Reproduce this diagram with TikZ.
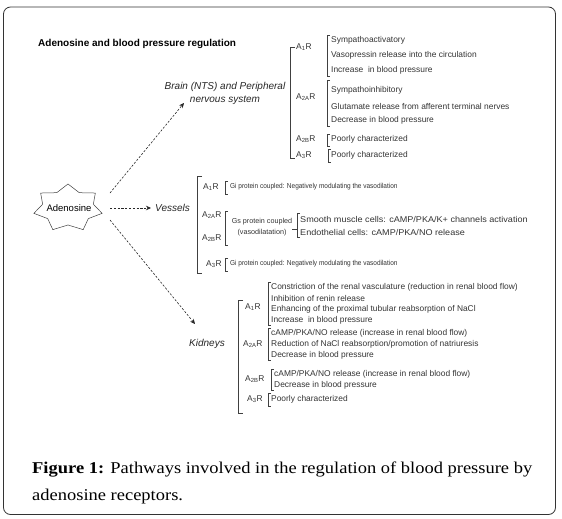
\documentclass[tikz,border=0pt]{standalone}
\usepackage{fontspec}
\setmainfont{Liberation Sans}
\newfontfamily\capfont[FakeStretch=1.12]{Liberation Serif}
\newfontfamily\narrowsf[FakeStretch=0.9]{Liberation Sans}
\newfontfamily\widesf[FakeStretch=1.08]{Liberation Sans}
\usetikzlibrary{arrows.meta}
\tikzset{
 body/.style={inner sep=0pt, anchor=west, font=\fontsize{8.4}{10}\selectfont, text=black!80},
 gitxt/.style={body, font=\narrowsf\fontsize{7.2}{8}\selectfont},
 smtxt/.style={body, font=\widesf\fontsize{8.4}{10}\selectfont},
 rlab/.style={body},
 sect/.style={inner sep=0pt, font=\fontsize{10}{13}\selectfont\itshape, text=black!85, align=center},
 brk/.style={draw=black!75, line width=0.5pt},
 arr/.style={draw=black!85, line width=0.6pt, dash pattern=on 2.2pt off 1.6pt, -{Stealth[length=5pt,width=4.5pt]}},
}
\newcommand\mybr[4]{\draw[brk] ({#1+#4},#2) -- (#1,#2) -- (#1,#3) -- ({#1+#4},#3);}
\newcommand\rc[1]{A\textsubscript{#1}R}
\begin{document}
\begin{tikzpicture}[x=1pt,y=-1pt]
\useasboundingbox (0,0) rectangle (562,519);
\draw[rounded corners=7pt, line width=0.8pt, black!80] (3.5,7) rectangle (555.5,514.5);

\node[anchor=west, inner sep=0pt, font=\fontsize{10}{12}\selectfont\bfseries] (title) at (38,44) {Adenosine and blood pressure regulation};

% star
\draw[line width=0.5pt, black!75] (68,184) \foreach \k in {0,...,6}{ -- ({68+26*cos(90+(\k+0.5)*360/7)},{208-17*sin(90+(\k+0.5)*360/7)}) -- ({68+35*cos(90+(\k+1)*360/7)},{208-24*sin(90+(\k+1)*360/7)}) } -- cycle;
\node[inner sep=0pt, font=\fontsize{9.5}{11}\selectfont] (adn) at (69,208) {Adenosine};

% section labels
\node[sect] (brain) at (225,93) {Brain (NTS) and Peripheral\\nervous system};
\node[sect, anchor=west] (vess) at (155,208) {Vessels};
\node[sect, anchor=west] (kid) at (189,344) {Kidneys};

% arrows
\coordinate (s1) at (110,193); \coordinate (e1) at (184,103);
\coordinate (s2) at (110,208);
\coordinate (s3) at (110,220); \coordinate (e3) at (195,324);
\draw[arr] (s1) -- (e1);
\draw[arr] (s2) -- ([xshift=-4pt]vess.west);
\draw[arr] (s3) -- (e3);

% Brain
\mybr{290}{47}{158}{5}
\node[rlab] (b1) at (296,47) {\rc{1}};
\mybr{327}{35}{76}{3}
\node[body] (b1a) at (331,40) {Sympathoactivatory};
\node[body] (b1b) at (331,55) {Vasopressin release into the circulation};
\node[body] (b1c) at (331,70) {Increase\ \ in blood pressure};
\node[rlab] (b2) at (296,97) {\rc{2A}};
\mybr{327}{80}{126}{3}
\node[body] (b2a) at (331,90) {Sympathoinhibitory};
\node[body] (b2b) at (331,106) {Glutamate release from afferent terminal nerves};
\node[body] (b2c) at (331,120) {Decrease in blood pressure};
\node[rlab] (b3) at (296,139) {\rc{2B}};
\mybr{327}{134}{146}{3}
\node[body] (b3a) at (331,139) {Poorly characterized};
\node[rlab] (b4) at (296,155) {\rc{3}};
\mybr{328}{149}{162}{3}
\node[body] (b4a) at (331,155) {Poorly characterized};

% Vessels
\mybr{197}{176}{273}{5}
\node[rlab] (v1) at (203,187) {\rc{1}};
\mybr{225}{181}{194}{3}
\node[gitxt] (v1a) at (230,187) {Gi protein coupled: Negatively modulating the vasodilation};
\node[rlab] (v2) at (202,215) {\rc{2A}};
\node[rlab] (v3) at (202,238) {\rc{2B}};
\mybr{225}{211}{245}{3}
\node[inner sep=0pt, font=\fontsize{7.2}{10.5}\selectfont, text=black!80, align=center] (v2a) at (262,227) {Gs protein coupled\\(vasodilatation)};
\draw[brk] (292,229) -- (297,229);
\mybr{297}{213}{237}{3}
\node[smtxt] (v2b) at (300,219) {Smooth muscle cells: cAMP/PKA/K+ channels activation};
\node[smtxt] (v2c) at (300,232) {Endothelial cells: cAMP/PKA/NO release};
\node[rlab] (v4) at (206,264) {\rc{3}};
\mybr{225}{258}{271}{3}
\node[gitxt] (v4a) at (230,264) {Gi protein coupled: Negatively modulating the vasodilation};

% Kidneys
\mybr{238}{300}{413}{5}
\node[rlab] (k1) at (245,307) {\rc{1}};
\mybr{268}{282}{325}{3}
\node[body] (k1a) at (271,287) {Constriction of the renal vasculature (reduction in renal blood flow)};
\node[body] (k1b) at (271,298) {Inhibition of renin release};
\node[body] (k1c) at (271,309) {Enhancing of the proximal tubular reabsorption of NaCl};
\node[body] (k1d) at (271,320) {Increase\ \ in blood pressure};
\node[rlab] (k2) at (243,344) {\rc{2A}};
\mybr{268}{328}{360}{3}
\node[body] (k2a) at (271,333) {cAMP/PKA/NO release (increase in renal blood flow)};
\node[body] (k2b) at (271,344) {Reduction of NaCl reabsorption/promotion of natriuresis};
\node[body] (k2c) at (271,355) {Decrease in blood pressure};
\node[rlab] (k3) at (245,379) {\rc{2B}};
\mybr{271}{369}{390}{3}
\node[body] (k3a) at (274,374) {cAMP/PKA/NO release (increase in renal blood flow)};
\node[body] (k3b) at (274,385) {Decrease in blood pressure};
\node[rlab] (k4) at (247,399) {\rc{3}};
\mybr{268}{393}{406}{3}
\node[body] (k4a) at (271,399) {Poorly characterized};

% caption
\node[anchor=west, inner sep=0pt, font=\capfont\fontsize{16.5}{19}\selectfont] (cap1) at (32,470) {\textbf{Figure 1:} Pathways involved in the regulation of blood pressure by};
\node[anchor=west, inner sep=0pt, font=\capfont\fontsize{16.5}{19}\selectfont] (cap2) at (32,497) {adenosine receptors.};
\end{tikzpicture}
\end{document}
